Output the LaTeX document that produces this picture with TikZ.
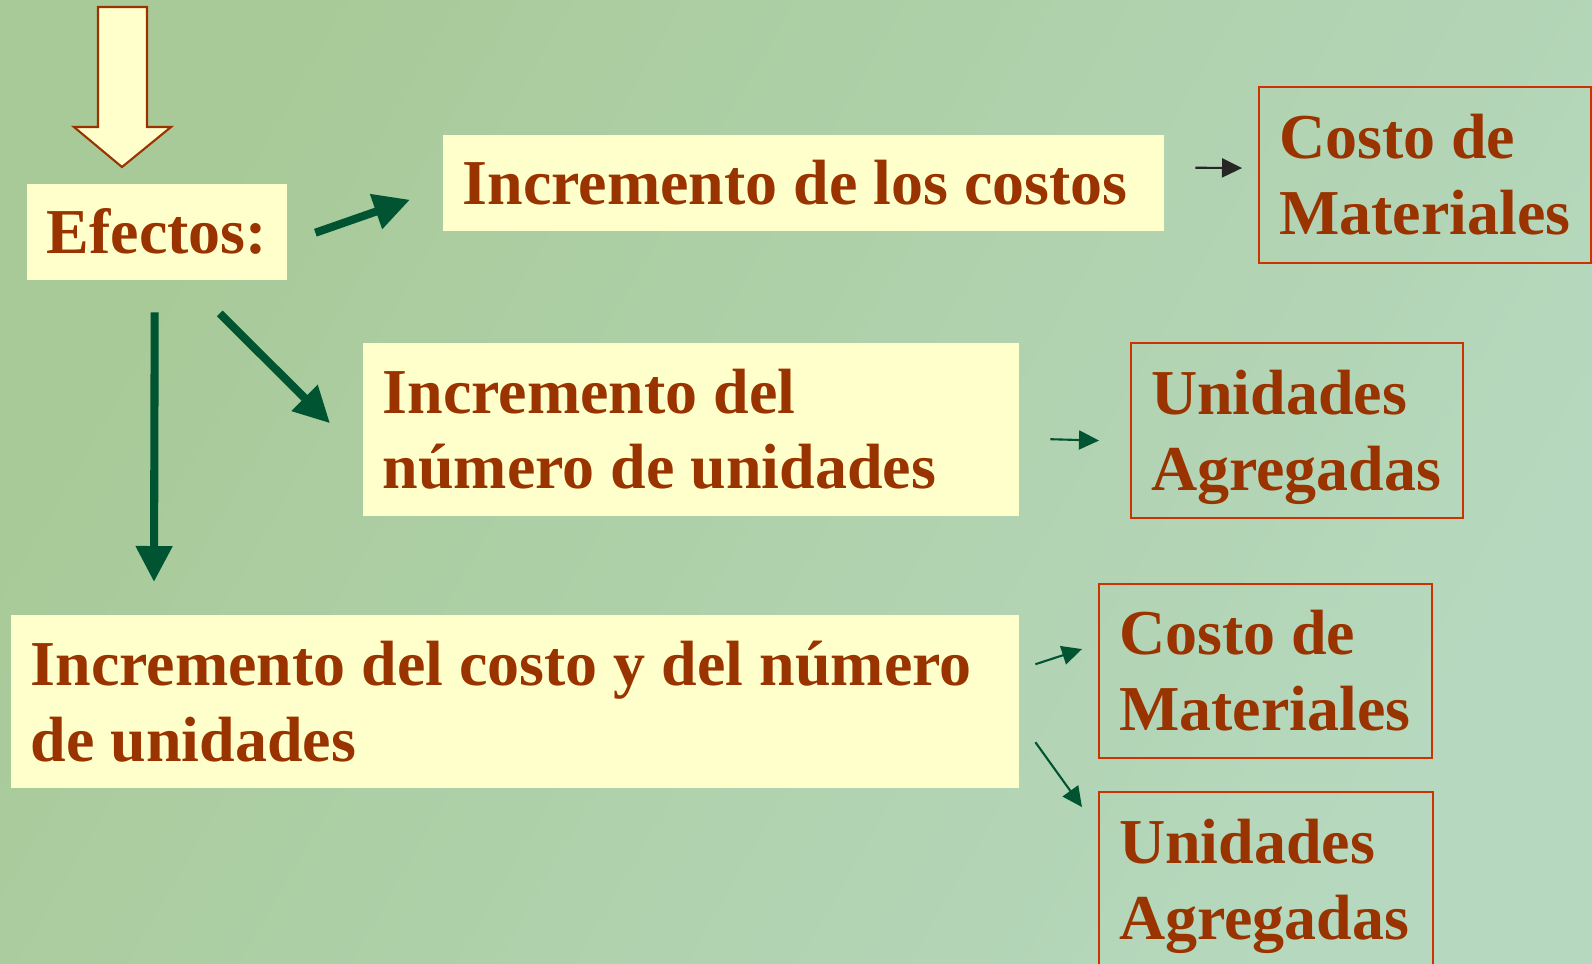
\documentclass[tikz,border=0pt]{standalone}
\usepackage{fontspec}
\setmainfont{Liberation Serif}
\usetikzlibrary{arrows.meta}
\usetikzlibrary{positioning}
\definecolor{fondoA}{RGB}{168,202,152}
\definecolor{fondoB}{RGB}{182,216,190}
\definecolor{crema}{RGB}{255,255,204}
\definecolor{ladrillo}{RGB}{153,51,0}
\definecolor{borde}{RGB}{204,51,0}
\definecolor{pino}{RGB}{0,84,50}
\tikzset{caja/.style = {fill=crema, text=ladrillo, font=\fontsize{18.2pt}{21.6pt}\selectfont\bfseries,
                        anchor=north west, inner xsep=0.2cm, inner ysep=0pt, align=flush left},
         resultado/.style = {caja, fill=none, draw=borde, line width=0.6pt},
         flecha/.style = {pino, line width=2.3pt, -{Triangle[width=0.35cm, length=0.36cm]}},
         flechita/.style = {pino, line width=0.6pt, -{Triangle[width=0.19cm, length=0.2cm]}}}

\begin{document}
\begin{tikzpicture}
    \useasboundingbox (0, 0) rectangle (15.92, -9.63);
    \clip (0, 0) rectangle (15.92, -9.63);
    \shade [left color=fondoA, right color=fondoB, shading angle=60] (0, 0) rectangle (15.92, -9.63);

    % flecha hueca de entrada
    \draw [fill=crema, draw=ladrillo, line width=0.6pt]
      (0.98, -0.07) -- (1.47, -0.07) -- (1.47, -1.27) -- (1.71, -1.27)
      -- (1.22, -1.67) -- (0.74, -1.27) -- (0.98, -1.27) -- cycle;

    \node [caja, text width=2.20cm, minimum height=0.96cm] (efectos) at (0.26, -1.83) {Efectos:};
    \node [caja, text width=6.81cm, minimum height=0.96cm] (costos) at (4.42, -1.34) {Incremento de los costos};
    \node [caja, text width=6.16cm, minimum height=1.73cm] (numero) at (3.62, -3.42) {Incremento del\\número de unidades};
    \node [caja, text width=9.68cm, minimum height=1.73cm] (ambos) at (0.10, -6.14) {Incremento del costo y del número\\de unidades};

    \node [resultado, text width=2.92cm, minimum height=1.76cm] (mat1) at (12.58, -0.86) {Costo de\\Materiales};
    \node [resultado, text width=2.92cm, minimum height=1.75cm] (agr1) at (11.30, -3.42) {Unidades\\\smash{Agregadas}};
    \node [resultado, text width=2.93cm, minimum height=1.74cm] (mat2) at (10.98, -5.83) {Costo de\\Materiales};
    \node [resultado, text width=2.94cm, minimum height=1.74cm] (agr2) at (10.98, -7.91) {Unidades\\\smash{Agregadas}};

    \draw [flecha] ([xshift=2.8mm, yshift=-0.1mm]efectos.east) -- ([xshift=-3.2mm, yshift=-1.7mm]costos.west);
    \draw [flecha] ([xshift=6.3mm, yshift=-3.3mm]efectos.south) -- ([xshift=-3.2mm, yshift=0.6mm]numero.west);
    \draw [flecha] ([xshift=-0.2mm, yshift=-3.2mm]efectos.south) -- ([xshift=14.4mm, yshift=3.2mm]ambos.north west);

    \draw [flechita, black!85] ([xshift=3.1mm, yshift=1.5mm]costos.east) -- ([xshift=-1.6mm, yshift=0.7mm]mat1.west);
    \draw [flechita] ([xshift=3.1mm, yshift=-1.0mm]numero.east) -- ([xshift=-3.1mm, yshift=-1.0mm]agr1.west);
    \draw [flechita] ([xshift=1.6mm, yshift=3.7mm]ambos.east) -- ([xshift=-1.6mm, yshift=2.2mm]mat2.west);
    \draw [flechita] ([xshift=1.6mm, yshift=-4.1mm]ambos.east) -- ([xshift=-1.6mm, yshift=7.2mm]agr2.west);
\end{tikzpicture}
\end{document}
